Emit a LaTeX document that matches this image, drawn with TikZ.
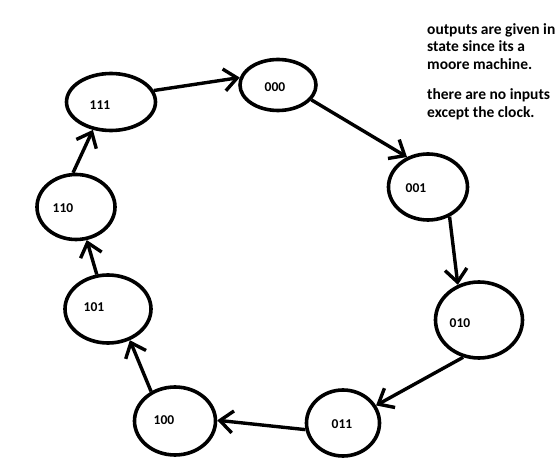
\documentclass[tikz,border=0pt]{standalone}
\usepackage{fontspec}
\setmainfont{Carlito}
\usetikzlibrary{shapes.geometric,arrows.meta}
\begin{document}
\begin{tikzpicture}[x=1pt,y=-1pt,
 state/.style={ellipse,draw,line width=3.6pt,inner sep=0pt},
 lab/.style={font=\bfseries\fontsize{13.5}{15}\selectfont,inner sep=0pt},
 edge/.style={line width=3.4pt,-{Straight Barb[length=13pt,width=22pt]}},
 note/.style={font=\bfseries\fontsize{15.5}{17.5}\selectfont,align=left,inner sep=0pt}]
\useasboundingbox (0,0) rectangle (560,465);
% states: name / centre / width / height / label position
\foreach \n/\x/\y/\w/\h/\lx/\ly in {000/278/85/76/51/275/87,001/428/187/79/66/416/188,
  010/479/320/87/76/460/323,011/343/423/73/66/342/424,100/175/421/81/68/164/420,
  101/108/309/86/68/94/307,110/76/207/78/65/63/208,111/111/102/89/57/100/105}{
  \node[state,minimum width=\w pt,minimum height=\h pt] (s\n) at (\x,\y) {};
  \node[lab] (l\n) at (\lx,\ly) {\n};
}
% transitions, one per clock tick
\foreach \a/\b in {000.-24/001.125,001.-54/010.121,010.247/011.28,011.190/100.1,
  100.129/101.-55,101.108/110.-72,110.95/111.237,111.15/000.169}{
  \draw[edge] (s\a) -- (s\b);
}
\node[note,anchor=north west] (notes) at (427,23) {outputs are given in\\state since its a\\moore machine.\\[13pt]there are no inputs\\except the clock.};
\end{tikzpicture}
\end{document}
